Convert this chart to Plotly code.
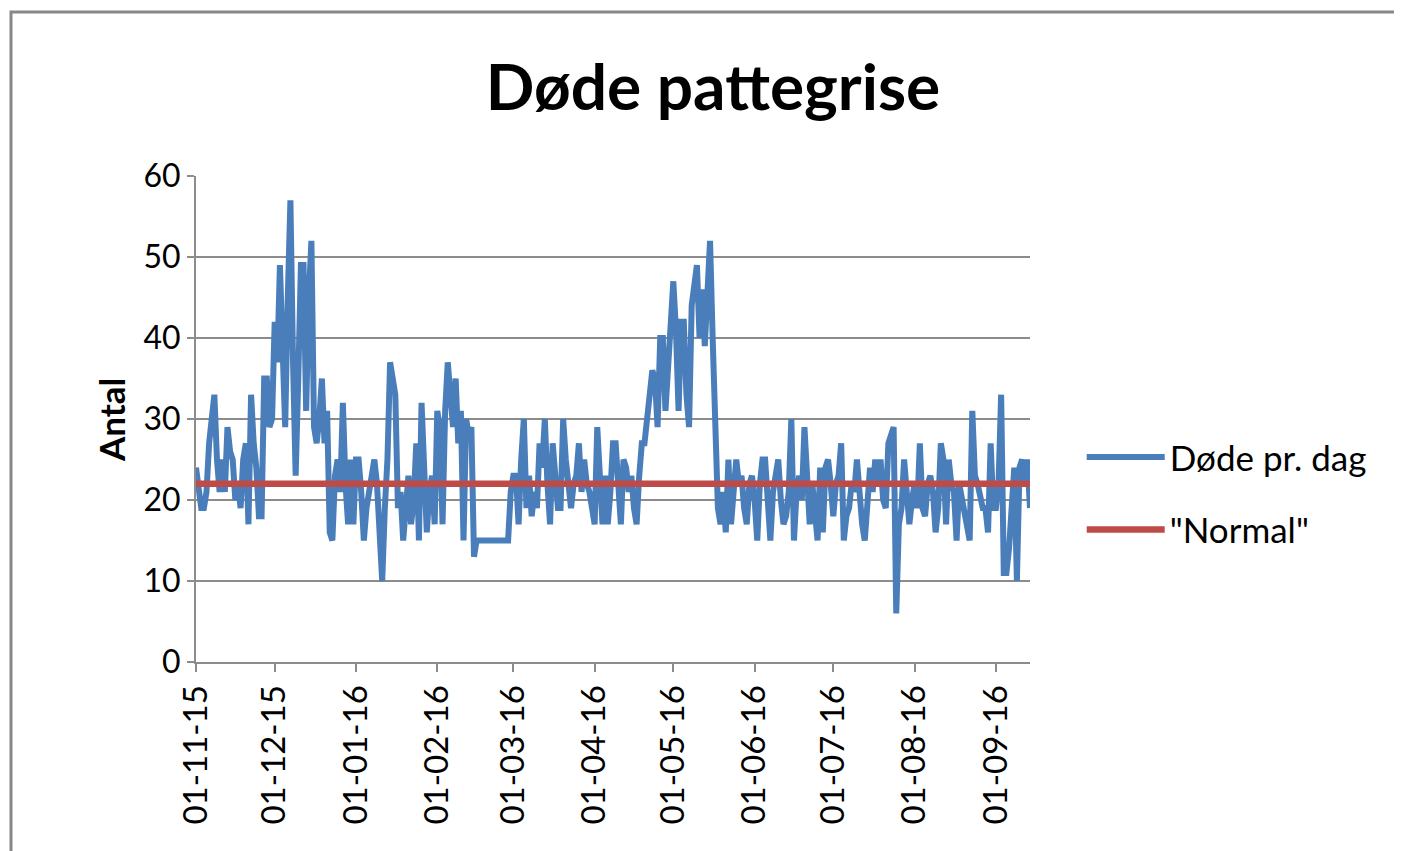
import pandas as pd
import plotly.graph_objects as go

start_date = "2015-11-01"
dode_pr_dag = [
    24, 22, 19, 19, 21, 27, 30, 33, 25, 21,
    25, 21, 29, 26, 25, 20, 22, 19, 25, 27,
    17, 33, 27, 24, 18, 18, 35, 35, 29, 30,
    42, 37, 49, 37, 29, 45, 57, 37, 23, 35,
    49, 49, 31, 45, 52, 29, 27, 30, 35, 27,
    31, 16, 15, 23, 25, 21, 32, 22, 17, 25,
    17, 25, 25, 21, 15, 19, 21, 23, 25, 22,
    17, 10, 19, 25, 37, 35, 33, 19, 21, 15,
    19, 23, 17, 20, 27, 15, 32, 25, 16, 21,
    23, 17, 31, 29, 17, 31, 37, 33, 29, 35,
    27, 31, 15, 30, 28, 29, 13, 15, 15, 15,
    15, 15, 15, 15, 15, 15, 15, 15, 15, 15,
    21, 23, 23, 17, 25, 30, 19, 23, 18, 21,
    19, 27, 24, 30, 22, 17, 27, 22, 19, 19,
    30, 25, 21, 19, 22, 23, 27, 21, 25, 22,
    21, 19, 17, 29, 22, 17, 23, 17, 21, 27,
    27, 22, 17, 25, 24, 21, 23, 19, 17, 23,
    27, 27, 30, 33, 36, 35, 29, 40, 40, 31,
    37, 40, 47, 41, 31, 42, 42, 33, 29, 44,
    47, 49, 40, 46, 39, 47, 52, 40, 30, 19,
    17, 21, 16, 25, 17, 21, 25, 22, 23, 19,
    17, 22, 23, 20, 15, 22, 25, 25, 19, 15,
    21, 23, 25, 20, 17, 18, 21, 30, 15, 21,
    23, 20, 29, 23, 17, 22, 19, 15, 24, 16,
    24, 25, 22, 18, 22, 23, 27, 15, 18, 19,
    22, 21, 25, 20, 17, 15, 20, 24, 21, 25,
    22, 25, 20, 19, 27, 28, 29, 6, 17, 19,
    25, 21, 17, 20, 22, 19, 27, 19, 18, 22,
    23, 21, 16, 19, 27, 25, 17, 25, 22, 21,
    15, 22, 20, 19, 17, 15, 31, 23, 22, 20,
    19, 19, 16, 27, 19, 19, 22, 33, 11, 11,
    14, 19, 24, 10, 24, 25, 22, 25, 19,
]
normal_value = 22
series_names = ["Døde pr. dag", '"Normal"']
title_text = "Døde pattegrise"
y_title = "Antal"

dates = pd.date_range(start_date, periods=len(dode_pr_dag), freq="D")
normal = [normal_value] * len(dates)

FONT = "Lato"
GRID = "#8c8c8c"

fig = go.Figure()
fig.add_trace(go.Scatter(x=dates, y=dode_pr_dag, mode="lines", name=series_names[0],
                         legendgroup="a",
                         line=dict(color="#4A7EBB", width=6)))
fig.add_trace(go.Scatter(x=dates, y=normal, mode="lines", name=series_names[1],
                         legendgroup="b",
                         line=dict(color="#BE4B48", width=6.5)))

fig.update_layout(
    width=1402, height=851,
    margin=dict(l=188, r=380, t=168, b=197),
    paper_bgcolor="white", plot_bgcolor="white",
    font=dict(family=FONT, color="black"),
    title=dict(text="<b>" + title_text + "</b>", x=705 / 1402, xref="container",
               y=1 - 80 / 851, yref="container", xanchor="center", yanchor="middle",
               font=dict(size=64, family=FONT, color="black")),
    showlegend=True,
    legend=dict(x=1.062, xanchor="left", y=0.347, yanchor="middle",
                font=dict(size=35, family=FONT), itemwidth=78,
                tracegroupgap=24, bgcolor="rgba(0,0,0,0)"),
    xaxis=dict(
        type="date",
        range=[dates[0], dates[-1]],
        tick0=start_date, dtick="M1", tickformat="%d-%m-%y",
        tickangle=-90, tickfont=dict(size=33, family=FONT),
        showgrid=False, showline=True, linecolor=GRID, linewidth=2,
        ticks="outside", ticklen=8, tickcolor=GRID, tickwidth=2,
        zeroline=False,
    ),
    yaxis=dict(
        range=[0, 60], dtick=10, tick0=0,
        tickfont=dict(size=32, family=FONT),
        showgrid=True, gridcolor=GRID, gridwidth=1.5,
        showline=True, linecolor=GRID, linewidth=2,
        ticks="outside", ticklen=7, tickcolor=GRID, tickwidth=2,
        zeroline=False,
    ),
    annotations=[dict(text="<b>" + y_title + "</b>", textangle=-90,
                      x=(88 - 196) / 834, y=(662 - 420) / 486,
                      xref="paper", yref="paper", showarrow=False,
                      font=dict(size=35, family=FONT, color="black"))],
    shapes=[dict(type="rect", xref="paper", yref="paper",
                 x0=(11 - 196) / 834, x1=(1420 - 196) / 834,
                 y0=(662 - 900) / 486, y1=(662 - 12) / 486,
                 line=dict(color="#888888", width=3), fillcolor="rgba(0,0,0,0)",
                 layer="below")],
)

fig.write_html("out.html")
